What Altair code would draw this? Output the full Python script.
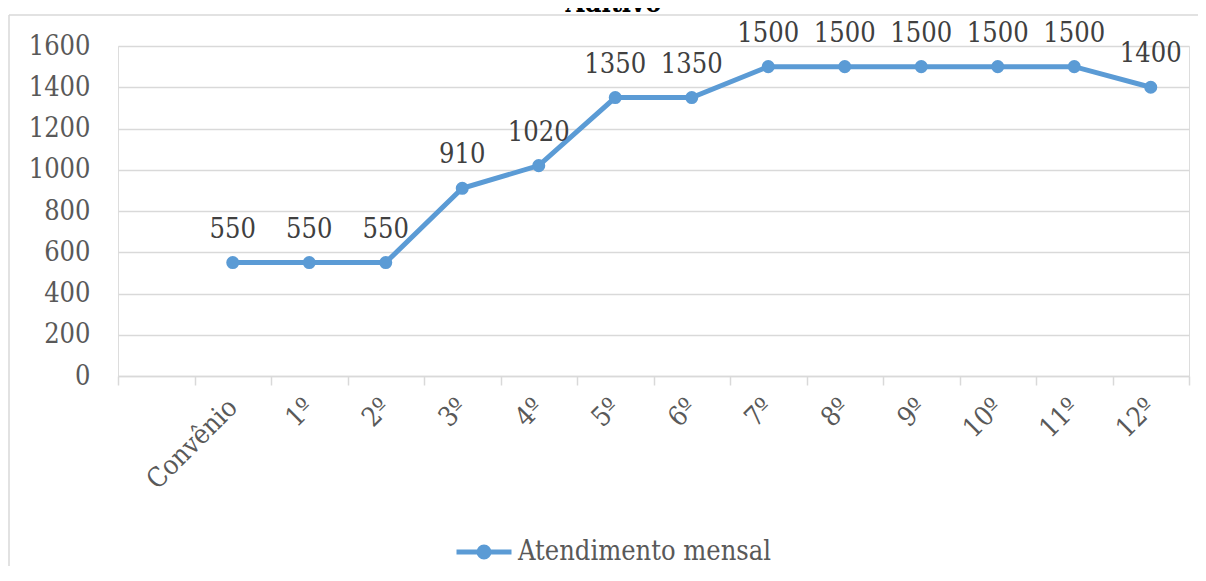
import json
import altair as alt
import pandas as pd

# ---- data ----
categories = ["", "Convênio", "1º", "2º", "3º", "4º", "5º", "6º", "7º", "8º", "9º", "10º", "11º", "12º"]
series_categories = ["Convênio", "1º", "2º", "3º", "4º", "5º", "6º", "7º", "8º", "9º", "10º", "11º", "12º"]
values = [550, 550, 550, 910, 1020, 1350, 1350, 1500, 1500, 1500, 1500, 1500, 1400]
series_name = "Atendimento mensal"
y_ticks = [0, 200, 400, 600, 800, 1000, 1200, 1400, 1600]
title_text = "Aditivo"

df = pd.DataFrame({"categoria": series_categories, "valor": values, "serie": series_name})
df["pos"] = [categories.index(c) + 0.5 for c in series_categories]

tick_positions = list(range(len(categories) + 1))
label_positions = [i + 0.5 for i in range(len(categories))]
axis_values = sorted(tick_positions + label_positions)

FONT = "DejaVu Serif Condensed, DejaVu Serif"
FS = 27
BLUE = "#5b9bd5"
GRID = "#d9d9d9"
W, H = 1071, 330
PAD = {"left": 110, "top": 38, "right": 9, "bottom": 190}

label_expr = "datum.value % 1 == 0 ? '' : " + json.dumps(categories, ensure_ascii=False) + "[floor(datum.value)]"

x_enc = alt.X(
    "pos:Q",
    scale=alt.Scale(domain=[0, len(categories)], nice=False, zero=False),
    axis=alt.Axis(
        title=None, values=axis_values, labelExpr=label_expr, grid=False,
        domainColor=GRID, domainWidth=1.5,
        tickColor={"condition": {"test": "datum.value % 1 == 0", "value": GRID}, "value": "transparent"},
        tickSize=9, tickWidth=1.5,
        labelAngle=315, labelAlign="right", labelBaseline="middle",
        labelPadding=18, labelFont=FONT, labelFontSize=FS, labelColor="#595959",
        labelOverlap=False, labelFlush=False, labelBound=False,
    ),
)
y_enc = alt.Y(
    "valor:Q",
    scale=alt.Scale(domain=[0, 1600], nice=False),
    axis=alt.Axis(
        title=None, values=y_ticks, domain=False, ticks=False, format="d",
        gridColor=GRID, gridWidth=1.5,
        labelFont=FONT, labelFontSize=FS, labelColor="#595959",
        labelPadding=28, labelBaseline="middle",
    ),
)

base = alt.Chart(df)

line = base.mark_line(color=BLUE, strokeWidth=5).encode(x=x_enc, y=y_enc)

legend_symbol = "M-1,0L1,0M0.18,0A0.18,0.18,0,1,1,-0.18,0A0.18,0.18,0,1,1,0.18,0Z"
points = base.mark_circle(size=170, opacity=1).encode(
    x=x_enc, y=y_enc,
    color=alt.Color(
        "serie:N", scale=alt.Scale(range=[BLUE]),
        legend=alt.Legend(
            title=None, orient="none", legendX=336, legendY=476, padding=0,
            symbolType=legend_symbol, symbolSize=3025, symbolStrokeWidth=5,
            symbolStrokeColor=BLUE, symbolFillColor=BLUE, symbolOpacity=1,
            labelFont=FONT, labelFontSize=FS, labelColor="#595959", labelLimit=0,
            labelOffset=4, labelBaseline="middle",
        ),
    ),
)

labels = base.mark_text(
    dy=-25, baseline="alphabetic", align="center",
    font=FONT, fontSize=FS, color="#404040",
).encode(x=x_enc, y=y_enc, text=alt.Text("valor:Q", format="d"))

frame_data = alt.Data(values=[{"b": 1}])
border_top = alt.Chart(frame_data).mark_rule(color=GRID, strokeWidth=1.5).encode(
    x=alt.value(-109), x2=alt.value(W + PAD["right"]), y=alt.value(-31),
)
border_left = alt.Chart(frame_data).mark_rule(color=GRID, strokeWidth=1.5).encode(
    x=alt.value(-109), y=alt.value(-31), y2=alt.value(H + PAD["bottom"]),
)

chart = alt.layer(border_top, border_left, line, points, labels).properties(
    width=W, height=H,
    title=alt.TitleParams(
        title_text, font=FONT, fontSize=FS, fontWeight="bold", color="#000000",
        anchor="middle", frame="group", baseline="alphabetic", offset=2, dx=-40, dy=27,
    ),
    autosize=alt.AutoSizeParams(type="none"),
    padding=PAD,
).configure_view(stroke=None).configure(background="white")

chart.save("out.html", embed_options={"renderer": "svg", "actions": False})
